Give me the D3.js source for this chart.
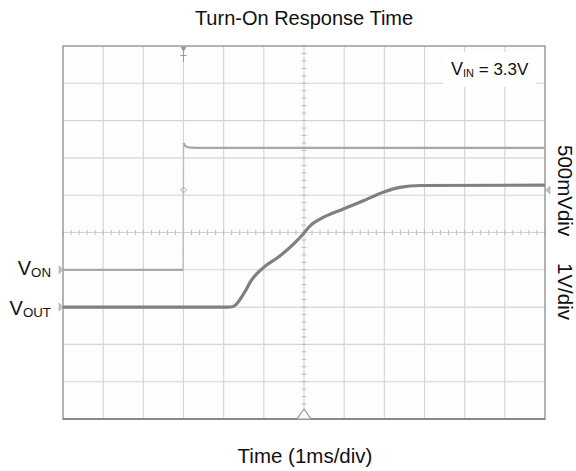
<!DOCTYPE html>
<html><head><meta charset="utf-8">
<script src="https://cdn.jsdelivr.net/npm/d3@7"></script>
<style>
html,body{margin:0;padding:0;background:#fff;}
svg{display:block;font-family:"Liberation Sans",Arial,sans-serif;}
</style></head>
<body>
<svg id="chart" width="576" height="471"></svg>
<script>
// ---- data ----
const title = "Turn-On Response Time";
const xLabel = "Time (1ms/div)";
const scaleLabels = ["500mVdiv", "1V/div"];
const vinLabel = {main: "V", sub: "IN", rest: " = 3.3V"};
// time in ms from left edge of screen (1 ms/div, 12 div)
const vonTime = [0, 2.99, 3.0, 3.04, 3.12, 3.3, 12];
const vonVolt = [0, 0, 1.70, 1.66, 1.64, 1.635, 1.635];       // 500 mV/div, ground at -1 div
const voutTime = [0, 4.1, 4.21, 4.3, 4.41, 4.55, 4.66, 4.99, 5.40, 5.75, 5.98, 6.15, 6.40, 6.98, 7.48, 7.97, 8.39, 8.89, 12];
const voutVolt = [0, 0, 0.01, 0.06, 0.21, 0.45, 0.67, 1.06, 1.37, 1.70, 1.96, 2.18, 2.36, 2.63, 2.85, 3.08, 3.21, 3.26, 3.27]; // 1 V/div, ground at -2 div
const vonScale = 0.5, vonOffset = -1;
const voutScale = 1.0, voutOffset = -2;
const triggerTime = 3.0;
const rightMarkerDiv = 1.14;

// ---- layout ----
const svg = d3.select("#chart");
const x = d3.scaleLinear().domain([0, 12]).range([63, 545]);
const y = d3.scaleLinear().domain([-5, 5]).range([419, 46]);

svg.append("rect").attr("x", x(0)).attr("y", y(5)).attr("width", x(12) - x(0)).attr("height", y(-5) - y(5)).attr("fill", "#fdfdfd");

const g = svg.append("g");
// grid
g.selectAll(".vg").data(d3.range(1, 12)).join("line")
  .attr("x1", d => x(d)).attr("x2", d => x(d)).attr("y1", y(5)).attr("y2", y(-5))
  .attr("stroke", "#d4d4d4").attr("stroke-width", 1.1);
g.selectAll(".hg").data(d3.range(-4, 5)).join("line")
  .attr("y1", d => y(d)).attr("y2", d => y(d)).attr("x1", x(0)).attr("x2", x(12))
  .attr("stroke", "#d4d4d4").attr("stroke-width", 1.1);
// center minor ticks
g.selectAll(".ht").data(d3.range(0, 12.01, 0.2)).join("line")
  .attr("x1", d => x(d)).attr("x2", d => x(d)).attr("y1", y(0) - 2.5).attr("y2", y(0) + 2.5)
  .attr("stroke", "#bcbcbc").attr("stroke-width", 1);
g.selectAll(".vt").data(d3.range(-5, 5.01, 0.2)).join("line")
  .attr("y1", d => y(d)).attr("y2", d => y(d)).attr("x1", x(6) - 2.5).attr("x2", x(6) + 2.5)
  .attr("stroke", "#bcbcbc").attr("stroke-width", 1);
// border
svg.append("rect").attr("x", x(0)).attr("y", y(5)).attr("width", x(12) - x(0)).attr("height", y(-5) - y(5))
  .attr("fill", "none").attr("stroke", "#9a9a9a").attr("stroke-width", 1.5);
svg.append("line").attr("x1", x(0)).attr("x2", x(12)).attr("y1", y(-5)).attr("y2", y(-5)).attr("stroke", "#888").attr("stroke-width", 2);

// VIN box
svg.append("rect").attr("x", 443).attr("y", 52).attr("width", 93).attr("height", 35).attr("fill", "#fff");
const vt = svg.append("text").attr("x", 451).attr("y", 75).attr("font-size", 17).attr("fill", "#111");
vt.append("tspan").attr("font-size", 18).text(vinLabel.main);
vt.append("tspan").attr("font-size", 11).attr("dy", 2).text(vinLabel.sub);
vt.append("tspan").attr("dy", -2).text(vinLabel.rest);

// traces
const lineVon = d3.line().x(d => x(d[0])).y(d => y(vonOffset + d[1] / vonScale));
const lineVout = d3.line().x(d => x(d[0])).y(d => y(voutOffset + d[1] / voutScale)).curve(d3.curveMonotoneX);
const vonPts = d3.zip(vonTime, vonVolt);
// low and high parts drawn normally, the fast edge drawn faint
svg.append("path").datum(vonPts.slice(1, 3)).attr("d", lineVon)
  .attr("fill", "none").attr("stroke", "#bdbdbd").attr("stroke-width", 1.4);
svg.append("path").datum(vonPts.slice(0, 2)).attr("d", lineVon)
  .attr("fill", "none").attr("stroke", "#a8a8a8").attr("stroke-width", 2.2);
svg.append("path").datum(vonPts.slice(2)).attr("d", lineVon)
  .attr("fill", "none").attr("stroke", "#a8a8a8").attr("stroke-width", 2.2);
svg.append("path").datum(d3.zip(voutTime, voutVolt)).attr("d", lineVout)
  .attr("fill", "none").attr("stroke", "#808080").attr("stroke-width", 3.2);

// markers
const mk = "#a0a0a0";
function leftArrow(yy) {
  svg.append("path").attr("d", `M${x(0) - 4},${yy - 4} L${x(0)},${yy} L${x(0) - 4},${yy + 4} Z`).attr("fill", "#c4c4c4").attr("stroke", mk).attr("stroke-width", 0.6);
}
leftArrow(y(vonOffset));
leftArrow(y(voutOffset));
const ry = y(rightMarkerDiv);
svg.append("path").attr("d", `M${x(12) + 5},${ry - 4} L${x(12) + 1},${ry} L${x(12) + 5},${ry + 4} Z`).attr("fill", "#c4c4c4").attr("stroke", mk).attr("stroke-width", 0.6);
// trigger marker top
const tx = x(triggerTime);
svg.append("path").attr("d", `M${tx - 3},${y(5) + 1} L${tx + 3},${y(5) + 1} L${tx},${y(5) + 6} Z`).attr("fill", "#999");
svg.append("line").attr("x1", tx).attr("x2", tx).attr("y1", y(5) + 4).attr("y2", y(5) + 16).attr("stroke", "#999").attr("stroke-width", 1);
svg.append("line").attr("x1", tx - 3).attr("x2", tx + 3).attr("y1", y(5) + 9.5).attr("y2", y(5) + 9.5).attr("stroke", "#999").attr("stroke-width", 1);
// diamond
svg.append("path").attr("d", `M${tx},${ry - 3} L${tx + 3},${ry} L${tx},${ry + 3} L${tx - 3},${ry} Z`).attr("fill", "none").attr("stroke", "#b0b0b0").attr("stroke-width", 1);
// bottom triangle
svg.append("path").attr("d", `M${x(6)},${y(-5) - 10} L${x(6) + 7},${y(-5)} L${x(6) - 7},${y(-5)} Z`).attr("fill", "#fff").attr("stroke", "#999").attr("stroke-width", 1.2);

// texts
svg.append("text").attr("x", 304).attr("y", 25).attr("text-anchor", "middle").attr("font-size", 20).attr("fill", "#111").text(title);
svg.append("text").attr("x", 305).attr("y", 463).attr("text-anchor", "middle").attr("font-size", 20.5).attr("fill", "#111").text(xLabel);
svg.append("text").attr("transform", "translate(558,145) rotate(90)").attr("font-size", 20.5).attr("fill", "#111").text(scaleLabels[0]);
svg.append("text").attr("transform", "translate(558,263) rotate(90)").attr("font-size", 20.5).attr("fill", "#111").text(scaleLabels[1]);

function sideLabel(sub, yy) {
  const t = svg.append("text").attr("x", 51).attr("y", yy).attr("text-anchor", "end").attr("font-size", 20).attr("fill", "#111");
  t.append("tspan").text("V");
  t.append("tspan").attr("font-size", 13.3).attr("dy", 1.5).text(sub);
}
sideLabel("ON", 275);
sideLabel("OUT", 315);
</script>
</body></html>
